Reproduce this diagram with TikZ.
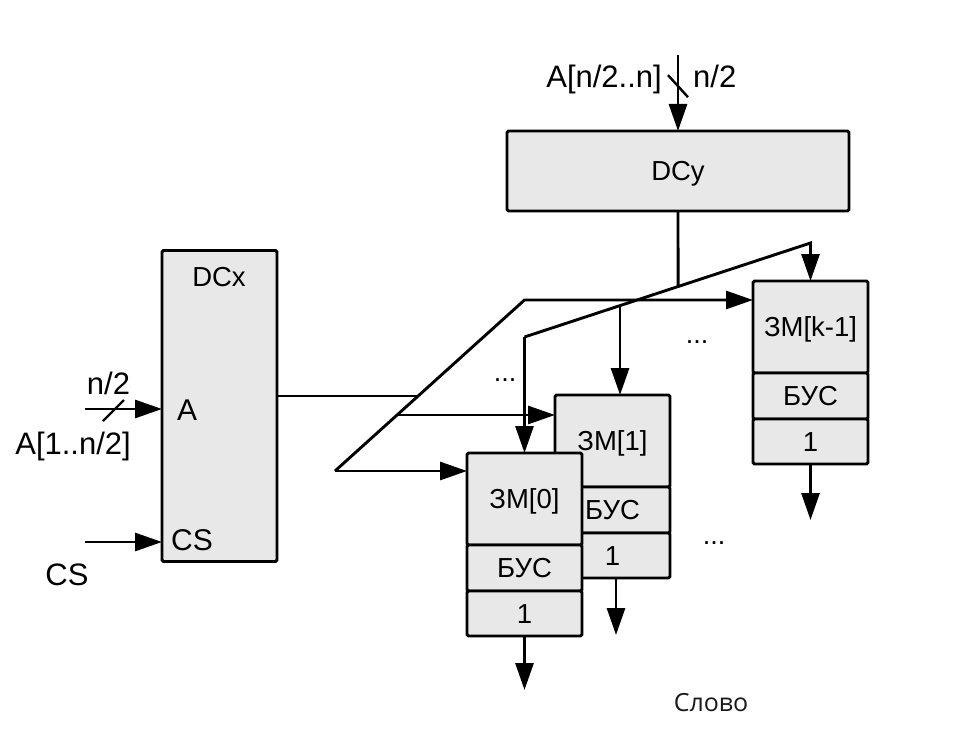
\documentclass[tikz,border=0pt]{standalone}
\usepackage{fontspec}
\setmainfont{Liberation Sans}
\newfontfamily\captionfont{Open Sans}
\usetikzlibrary{arrows.meta,calc}
\definecolor{boxfill}{HTML}{E8E8E8}
\begin{document}
\begin{tikzpicture}[x=1pt,y=-1pt,
  wire/.style={line width=2.9pt},
  arr/.style={wire,-{Triangle[length=27pt,width=18pt]}},
  tick/.style={line width=2.4pt},
  block/.style={draw,line width=2.9pt,fill=boxfill,rounded corners=1.5pt,inner sep=0pt,outer sep=0pt},
  txt/.style={font=\fontsize{27.5}{31}\selectfont,text height=19.7pt,text depth=0pt,inner sep=0pt},
  port/.style={font=\fontsize{30}{34}\selectfont,text height=21.5pt,text depth=0pt,inner sep=0pt},
  lbl/.style={font=\fontsize{31}{35}\selectfont,text height=22.2pt,text depth=0pt,inner sep=0pt},
  dots/.style={font=\fontsize{27}{31}\selectfont,inner sep=0pt,anchor=base},
  zmtop/.style={block,txt,minimum width=115pt,minimum height=92pt},
  zmmid/.style={block,txt,minimum width=115pt,minimum height=46pt,anchor=north},
  zmbot/.style={block,txt,minimum width=115pt,minimum height=45pt,anchor=north},
]
\useasboundingbox (0,0) rectangle (974,738);

% column decoder DCy with its address input
\node[block,txt,minimum width=342pt,minimum height=80pt] (dcy) at (678,171) {DCy};
\coordinate (ytop) at (678,55);
\draw[arr] (ytop) -- (dcy.north);
\draw[tick] ($(ytop)!0.41!(dcy.north)$) ++(-10,-11) -- ++(20,22);
\node[lbl,anchor=east] (lay) at (662,76) {A[n/2..n]};
\node[lbl,anchor=west] (lny) at (693,76) {n/2};

% row decoder DCx with its inputs
\node[block,minimum width=115pt,minimum height=311pt] (dcx) at (219.5,406) {};
\node[txt] (dcxname) at (219,277) {DCx};
\node[port,anchor=west] (pa) at (177,410) {A};
\node[port,anchor=west] (pcs) at (171,540) {CS};
\coordinate (ain) at (85,409);
\draw[arr] (ain) -- (ain -| dcx.west);
\draw[tick] (103,421) -- (124,400);
\node[lbl] (lnx) at (108.5,383) {n/2};
\node[lbl,anchor=east] (lax) at (131,443) {A[1..n/2]};
\coordinate (csin) at (85,542);
\draw[arr] (csin) -- (csin -| dcx.west);
\node[lbl] (lcs) at (67,574) {CS};

% memory cell ZM[k-1]
\node[zmtop] (kt) at (810.5,327) {ЗМ[k-1]};
\node[zmmid] (km) at (kt.south) {БУС};
\node[zmbot] (kb) at (km.south) {1};

% memory cell ZM[1]
\node[zmtop] (m1t) at (612.5,441) {ЗМ[1]};
\node[zmmid] (m1m) at (m1t.south) {БУС};
\node[zmbot] (m1b) at (m1m.south) {1};

% column select bus
\coordinate (yl) at (524.5,337);
\coordinate (yr) at (810.5,243);
\draw[arr] (yl) -- (yr) -- (kt.north);
\coordinate (yb) at ($(yl)!0.334!(yr)$);
\draw[arr] (yb) -- (yb |- m1t.north);
\coordinate (yj) at ($(yl)!0.537!(yr)$);
\draw[wire] (dcy.south) -- (yj);

% row select bus
\coordinate (xt) at (524.5,300);
\coordinate (xb) at (335,471);
\draw[arr] (xb) -- (xt) -- (xt -| kt.west);
\coordinate (xm) at ($(xb)!0.3275!(xt)$);
\draw[arr] (xm) -- (xm -| m1t.west);
\coordinate (xd) at ($(xb)!0.4386!(xt)$);
\draw[wire] (xd -| dcx.east) -- (xd);

% memory cell ZM[0], in front of ZM[1]
\node[zmtop] (m0t) at (524.5,499) {ЗМ[0]};
\node[zmmid] (m0m) at (m0t.south) {БУС};
\node[zmbot] (m0b) at (m0m.south) {1};
\draw[arr] (yl) -- (m0t.north);
\draw[arr] (xb) -- (xb -| m0t.west);

% outputs
\coordinate (o0) at (524.5,690);
\draw[arr] (m0b.south) -- (o0);
\coordinate (o1) at (616,635);
\draw[arr] (o1 |- m1b.south) -- (o1);
\coordinate (ok) at (810.5,520);
\draw[arr] (kb.south) -- (ok);

% ellipses
\node[dots] (d1) at (505,381) {...};
\node[dots] (d2) at (697,343) {...};
\node[dots] (d3) at (714,544) {...};

\node[font=\captionfont\fontsize{25}{29}\selectfont,text height=17.9pt,text depth=0pt,inner sep=0pt,text=black!90] (word) at (711,703) {Слово};
\end{tikzpicture}
\end{document}
